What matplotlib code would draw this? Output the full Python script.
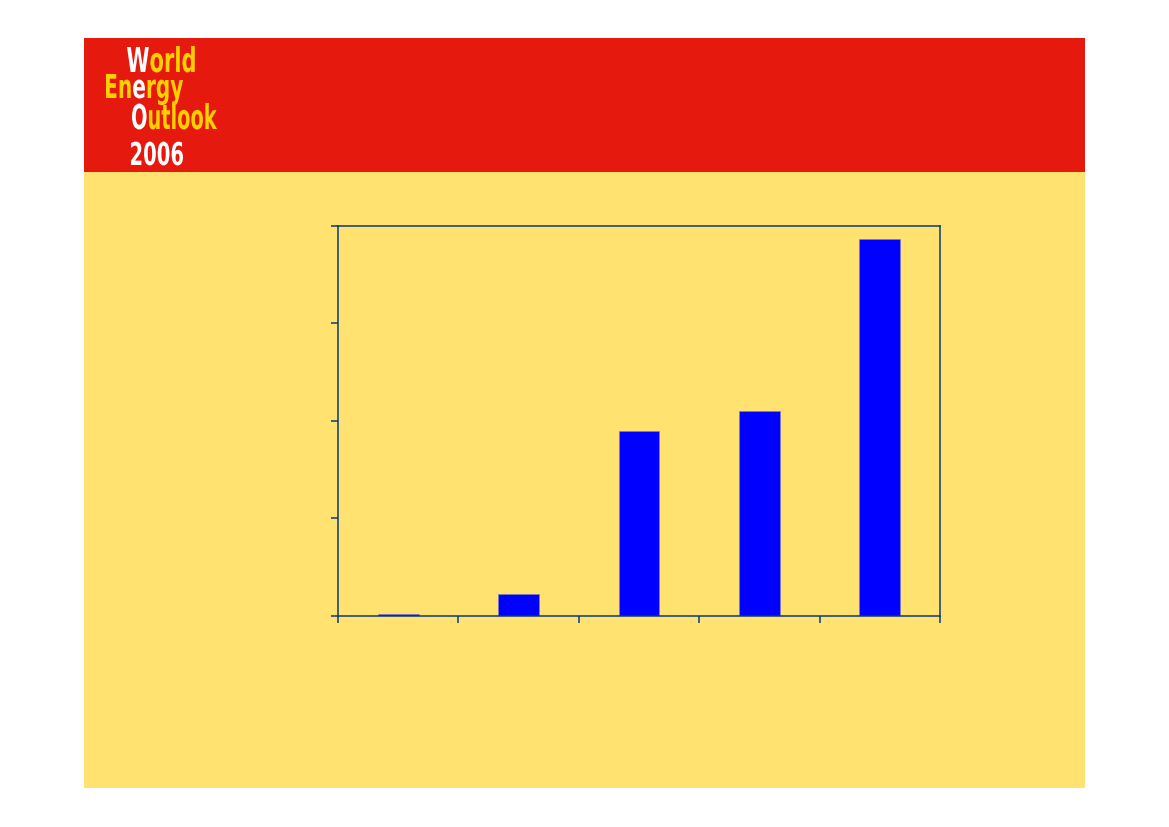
import numpy as np
import matplotlib
matplotlib.use("Agg")
import matplotlib.pyplot as plt
from matplotlib.patches import Rectangle, PathPatch
from matplotlib.textpath import TextPath, TextToPath
from matplotlib.font_manager import FontProperties
from matplotlib.transforms import Affine2D, IdentityTransform
from matplotlib.path import Path

# data (no labels shown in the original)
categories = ["A", "B", "C", "D", "E"]
values = [0.02, 0.23, 1.89, 2.10, 3.86]
y_ticks = [0, 1, 2, 3, 4]

RED = "#E5190D"
PANEL = "#FFE270"
LOGO_YEL = "#FFD000"
SPINE = "#0B3A78"

W, H = 1169, 827
fig = plt.figure(figsize=(W / 100, H / 100), dpi=100)
fig.patch.set_facecolor("white")

# background panel and red header
fig.add_artist(Rectangle((84 / W, 1 - 788 / H), 1001 / W, 750 / H,
                         transform=fig.transFigure, facecolor=PANEL, edgecolor="none", zorder=0))
fig.add_artist(Rectangle((84 / W, 1 - 172 / H), 1001 / W, 134 / H,
                         transform=fig.transFigure, facecolor=RED, edgecolor="none", zorder=0))

# logo, each word squeezed into the box seen in the picture
prop = FontProperties(family="DejaVu Sans", weight="bold")
t2p = TextToPath()
cap_h = TextPath((0, 0), "W", size=1, prop=prop).get_extents().height


def logo_word(segments, x0, top, bottom, x1):
    word = "".join(s for s, _ in segments)
    ext = TextPath((0, 0), word, size=1, prop=prop).get_extents()
    sx = (x1 - x0) / ext.width
    sy = (bottom - top) / cap_h
    prefix = ""
    for text, col in segments:
        off = t2p.get_text_width_height_descent(prefix, prop, ismath=False)[0] / prop.get_size_in_points() if prefix else 0
        p = TextPath((off, 0), text, size=1, prop=prop)
        tr = Affine2D().translate(-ext.x0, 0).scale(sx, sy).translate(x0, H - bottom)
        patch = PathPatch(tr.transform_path(p), facecolor=col, edgecolor="none",
                          transform=IdentityTransform(), zorder=3)
        fig.add_artist(patch)
        prefix += text


logo_word([("W", "white"), ("orld", LOGO_YEL)], 127, 47, 72, 194)
logo_word([("En", LOGO_YEL), ("e", "white"), ("rgy", LOGO_YEL)], 106, 74, 98, 183)
logo_word([("O", "white"), ("utlook", LOGO_YEL)], 132, 104, 129, 217)
logo_word([("2006", "white")], 131, 142, 165, 183)

# chart
ax = fig.add_axes([338 / W, 1 - 616 / H, 602 / W, 390.5 / H])
ax.set_facecolor("none")
x = np.arange(len(categories))
ax.bar(x, values, width=0.34, color="#0000FF", edgecolor="#8080C0", linewidth=0.4, zorder=2)

ax.set_xlim(-0.5, len(categories) - 0.5)
ax.set_ylim(y_ticks[0], y_ticks[-1])
ax.set_xticks(np.arange(len(categories) + 1) - 0.5)
ax.set_yticks(y_ticks)
ax.set_xticklabels([])
ax.set_yticklabels([])
ax.tick_params(direction="out", length=5, width=1.1, color=SPINE)
for s in ax.spines.values():
    s.set_color(SPINE)
    s.set_linewidth(1.1)

fig.savefig("out.png", dpi=100, facecolor=fig.get_facecolor())
